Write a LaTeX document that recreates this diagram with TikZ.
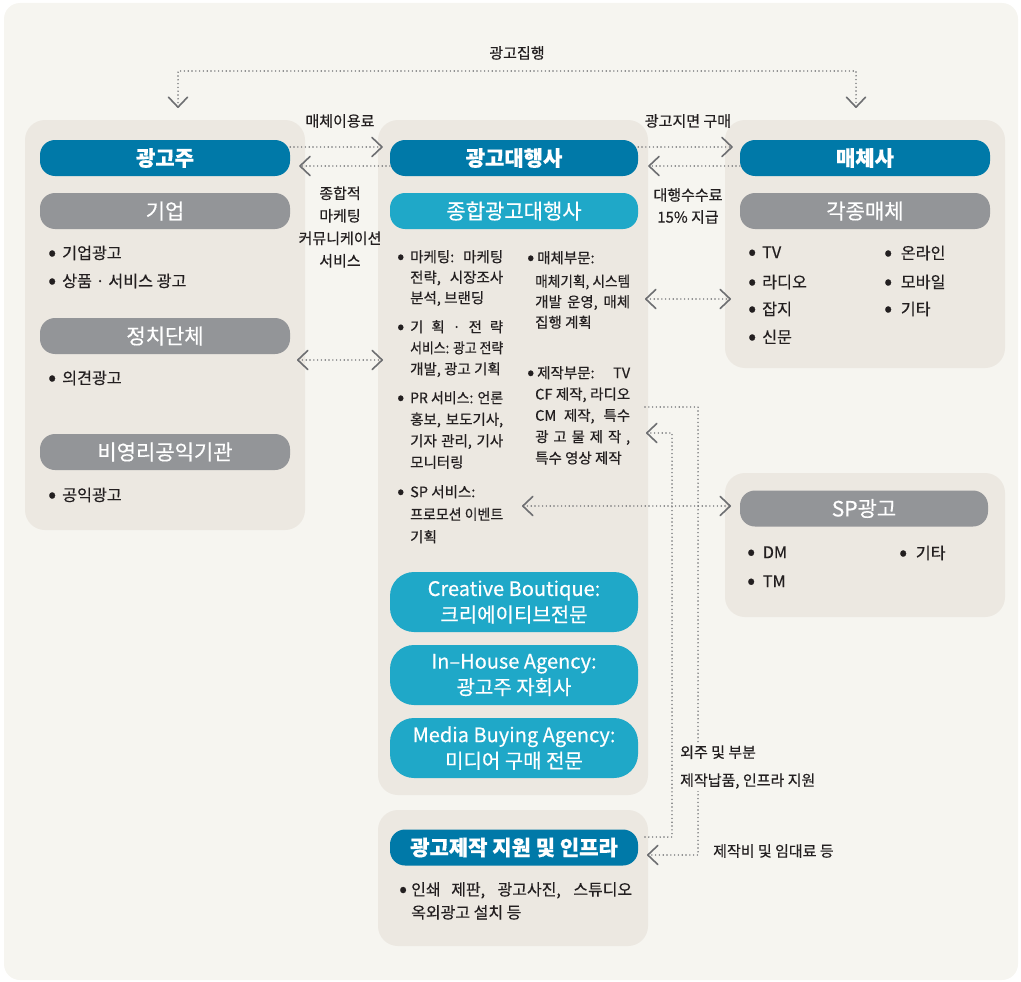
\documentclass[tikz,border=0pt]{standalone}
\usepackage{fontspec}
\setmainfont{Noto Sans CJK KR}[FakeBold=0.45]
\newfontfamily\hbold{Noto Sans CJK KR}[FakeBold=0.3, UprightFont=*, BoldFont=*]
\usepackage{graphicx}
\usetikzlibrary{arrows.meta}
\definecolor{bgc}{HTML}{F6F5F0}
\definecolor{panelc}{HTML}{ECE8E1}
\definecolor{dblue}{HTML}{0079A8}
\definecolor{lblue}{HTML}{1FA8C8}
\definecolor{greyc}{HTML}{939598}
\definecolor{txt}{HTML}{231F20}
\definecolor{linec}{HTML}{6D6E71}
\newsavebox\jbox
\newcommand\jl[2]{\sbox\jbox{#2}\ifdim\wd\jbox>#1\relax\resizebox{#1}{\height}{\usebox\jbox}\else\makebox[#1][s]{#2}\fi}
\newcommand\dotb{\raisebox{-0.09em}{\scalebox{1.45}{•}}}
\newcommand\bul[1][14pt]{\makebox[#1][l]{\dotb}}
\newcommand\lbul[1][13pt]{\llap{\makebox[#1][l]{\dotb}}}
\tikzset{
  panel/.style={fill=panelc, rounded corners=20pt, inner sep=0pt},
  hbase/.style={rounded corners=15pt, text=white, minimum height=36pt, inner sep=0pt, font=\fontsize{21}{24}\selectfont},
  hdark/.style={hbase, fill=dblue, font=\fontsize{21}{24}\selectfont\bfseries},
  hgrey/.style={hbase, fill=greyc},
  hlight/.style={hbase, fill=lblue},
  hbig/.style={fill=lblue, rounded corners=24pt, text=white, minimum width=248pt, minimum height=60pt, align=center, inner sep=0pt, font=\fontsize{20}{26}\selectfont},
  body/.style={text=txt, font=\fontsize{16.2}{22}\selectfont, anchor=west, inner sep=0pt},
  small/.style={text=txt, font=\fontsize{14.5}{21}\selectfont, anchor=north west, align=left, inner sep=0pt},
  lab/.style={text=txt, font=\fontsize{15}{22.5}\selectfont, align=center, inner sep=0pt},
  conn/.style={draw=linec, line width=1.6pt, line cap=round, dash pattern=on 0pt off 3.8pt},
  chev/.tip={Straight Barb[length=10pt, width=19pt, line width=1.6pt, round]}
}
\begin{document}
\begin{tikzpicture}[x=1pt,y=-1pt]
\useasboundingbox (0,0) rectangle (1021,982);
\fill[bgc, rounded corners=16pt] (4,3) rectangle (1018,980);

% panels
\node[panel, minimum width=280pt, minimum height=410pt] (lp) at (165,325) {};
\node[panel, minimum width=270pt, minimum height=675pt] (cp) at (513,457.5) {};
\node[panel, minimum width=280pt, minimum height=248pt] (rp) at (865,244) {};
\node[panel, minimum width=280pt, minimum height=144pt] (sp) at (865,545) {};
\node[panel, minimum width=270pt, minimum height=136pt] (bp) at (513,878) {};

% headers
\node[hdark, minimum width=250pt] (adv) at (165,158) {광고주};
\node[hdark, minimum width=248pt] (agn) at (514,158) {광고대행사};
\node[hdark, minimum width=250pt] (med) at (865,158) {매체사};
\node[hgrey, minimum width=250pt] (corp) at (165,211) {기업};
\node[hlight, minimum width=248pt] (full) at (514,211) {종합광고대행사};
\node[hgrey, minimum width=250pt] (vm) at (865,211) {각종매체};
\node[hgrey, minimum width=250pt] (pol) at (165,336) {정치단체};
\node[hgrey, minimum width=250pt] (npo) at (165,452) {비영리공익기관};
\node[hgrey, minimum width=248pt] (spa) at (864,508.5) {SP광고};
\node[hbig] (cb) at (514,602) {Creative Boutique:\\크리에이티브전문};
\node[hbig] (ih) at (514,675) {In–House Agency:\\광고주 자회사};
\node[hbig] (mb) at (514,748) {Media Buying Agency:\\미디어 구매 전문};
\node[hdark, minimum width=248pt] (prod) at (514,847.5) {광고제작 지원 및 인프라};

% body texts left
\node[body] (b1) at (48,253) {\bul 기업광고};
\node[body] (b2) at (48,281) {\bul 상품 · 서비스 광고};
\node[body] (b3) at (48,378) {\bul 의견광고};
\node[body] (b4) at (48,495) {\bul 공익광고};
% right top
\node[body] (r1) at (748,253) {\bul TV};
\node[body] (r2) at (748,282) {\bul 라디오};
\node[body] (r3) at (748,309) {\bul 잡지};
\node[body] (r4) at (748,337) {\bul 신문};
\node[body] (r5) at (884,253) {\bul[13pt] 온라인};
\node[body] (r6) at (884,282) {\bul[13pt] 모바일};
\node[body] (r7) at (884,309) {\bul[13pt] 기타};
% SP
\node[body] (s1) at (747,553) {\bul[12pt] DM};
\node[body] (s2) at (747,582) {\bul[12pt] TM};
\node[body] (s3) at (899,553) {\bul[13pt] 기타};

% centre columns
\node[small, font=\fontsize{14.5}{20.5}\selectfont] (n1) at (410,250) {\lbul\jl{93pt}{마케팅: 마케팅}\\\jl{93pt}{전략, 시장조사}\\분석, 브랜딩};
\node[small] (n2) at (410,320) {\lbul\jl{93pt}{기 획 · 전 략}\\\jl{93pt}{서비스: 광고 전략}\\개발, 광고 기획};
\node[small, font=\fontsize{14.5}{21.5}\selectfont] (n3) at (410,391) {\lbul\jl{93pt}{PR 서비스: 언론}\\\jl{93pt}{홍보, 보도기사,}\\\jl{93pt}{기자 관리, 기사}\\모니터링};
\node[small, font=\fontsize{14.5}{22.5}\selectfont] (n4) at (410,485) {\lbul SP 서비스:\\\jl{93pt}{프로모션 이벤트}\\기획};
\node[small, font=\fontsize{14.5}{20.5}\selectfont] (m1) at (535,251) {\hspace*{2pt}\lbul[10pt]매체부문:\\[3pt]\jl{95pt}{매체기획, 시스템}\\\jl{95pt}{개발 운영, 매체}\\집행 계획};
\node[small, font=\fontsize{14.5}{21.3}\selectfont] (m2) at (535,366) {\hspace*{2pt}\lbul[10pt]\jl{93pt}{제작부문: TV}\\\jl{95pt}{CF 제작, 라디오}\\\jl{95pt}{CM 제작, 특수}\\\jl{95pt}{광 고 물 제 작 ,}\\특수 영상 제작};
% bottom
\node[small, font=\fontsize{16}{23}\selectfont] (bt) at (411,882) {\lbul[12pt]\jl{221pt}{인쇄 제판, 광고사진, 스튜디오}\\옥외광고 설치 등};

% connectors
\coordinate (t1) at (178,108);
\coordinate (t2) at (856,108);
\coordinate (tm) at (517,71);
\draw[conn, chev-chev] (t1) |- (tm) -| (t2);
\node[lab] (l1) at (517,53) {광고집행};

\draw[conn, -chev] ([yshift=11pt]adv.east) -- ([yshift=11pt,xshift=-7pt]agn.west);
\draw[conn, -chev] ([yshift=-8pt]agn.west) -- ([yshift=-8pt,xshift=9pt]adv.east);
\draw[conn, -chev] ([yshift=11pt]agn.east) -- ([yshift=11pt,xshift=-7pt]med.west);
\draw[conn, -chev] ([yshift=-8pt]med.west) -- ([yshift=-8pt,xshift=10pt]agn.east);
\node[lab] (l2) at (340,121) {매체이용료};
\node[lab] (l3) at (688,121) {광고지면 구매};
\node[lab] (l4) at (340,227) {종합적\\마케팅\\커뮤니케이션\\서비스};
\node[lab, font=\fontsize{15}{22}\selectfont] (l5) at (688,206) {대행수수료\\15\% 지급};

\coordinate (d1a) at (297,360);
\coordinate (d1b) at (383,360);
\draw[conn, chev-chev] (d1a) -- (d1b);
\coordinate (d2a) at (645,299);
\coordinate (d2b) at (731,299);
\draw[conn, chev-chev] (d2a) -- (d2b);
\coordinate (d3a) at (522,506);
\coordinate (d3b) at (731,506);
\draw[conn, chev-chev] (d3a) -- (d3b);

\coordinate (p1a) at (645,407);
\coordinate (p1k) at (698,855);
\coordinate (p1b) at (647,855);
\draw[conn, -chev] (p1a) -| (p1k) -- (p1b);
\coordinate (p2a) at (645,837);
\coordinate (p2k) at (672,433);
\coordinate (p2b) at (646,433);
\draw[conn, -chev] (p2a) -| (p2k) -- (p2b);

\node[lab, align=left, anchor=west, fill=bgc, inner sep=2pt, font=\fontsize{15}{28}\selectfont] (l6) at (678,767) {외주 및 부분\\제작납품, 인프라 지원};
\node[lab, anchor=west] (l7) at (713,851) {제작비 및 임대료 등};
\end{tikzpicture}
\end{document}
